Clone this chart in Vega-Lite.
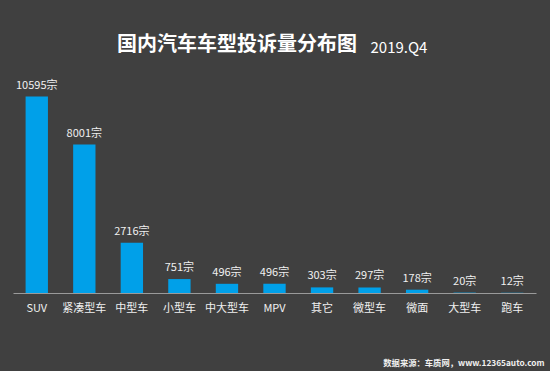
{
  "$schema": "https://vega.github.io/schema/vega-lite/v6.json",
  "width": 523,
  "height": 204,
  "autosize": {"type": "none"},
  "padding": {"left": 13, "top": 89, "right": 14, "bottom": 78},
  "background": "#404040",
  "config": {"view": {"stroke": null}},
  "title": {
    "text": "国内汽车车型投诉量分布图",
    "anchor": "start",
    "frame": "group",
    "dx": 104,
    "offset": -15,
    "font": "Noto Sans CJK SC",
    "fontSize": 20,
    "fontWeight": "bold",
    "color": "#ffffff"
  },
  "data": {
    "values": [
      {"type": "SUV", "count": 10595, "label": "10595宗"},
      {"type": "紧凑型车", "count": 8001, "label": "8001宗"},
      {"type": "中型车", "count": 2716, "label": "2716宗"},
      {"type": "小型车", "count": 751, "label": "751宗"},
      {"type": "中大型车", "count": 496, "label": "496宗"},
      {"type": "MPV", "count": 496, "label": "496宗"},
      {"type": "其它", "count": 303, "label": "303宗"},
      {"type": "微型车", "count": 297, "label": "297宗"},
      {"type": "微面", "count": 178, "label": "178宗"},
      {"type": "大型车", "count": 20, "label": "20宗"},
      {"type": "跑车", "count": 12, "label": "12宗"}
    ]
  },
  "encoding": {
    "x": {
      "field": "type",
      "type": "nominal",
      "sort": null,
      "scale": {"paddingInner": 0.53, "paddingOuter": 0.265},
      "axis": {
        "title": "数据来源：车质网，www.12365auto.com",
        "titleAnchor": "end",
        "titleAlign": "right",
        "titleBaseline": "middle",
        "titleX": 531,
        "titleY": 70,
        "titleFont": "Noto Sans CJK SC",
        "titleFontSize": 8.3,
        "titleFontWeight": "bold",
        "titleColor": "#f0f0f0",
        "labelAngle": 0,
        "labelFont": "Noto Sans CJK SC",
        "labelFontSize": 11,
        "labelColor": "#f0f0f0",
        "labelPadding": 9,
        "ticks": false,
        "domainColor": "#9a9a9a",
        "domainWidth": 1
      }
    },
    "y": {
      "field": "count",
      "type": "quantitative",
      "scale": {"domain": [0, 11000]},
      "axis": {
        "title": "2019.Q4",
        "titleAngle": 0,
        "titleAlign": "left",
        "titleBaseline": "alphabetic",
        "titleX": 357,
        "titleY": -37,
        "titleFont": "Noto Sans CJK SC",
        "titleFontSize": 15,
        "titleFontWeight": "normal",
        "titleColor": "#ffffff",
        "labels": false,
        "ticks": false,
        "domain": false,
        "grid": false
      }
    }
  },
  "layer": [
    {"mark": {"type": "bar", "color": "#00a0e9"}},
    {
      "mark": {
        "type": "text",
        "baseline": "bottom",
        "dy": -6,
        "color": "#f0f0f0",
        "font": "Noto Sans CJK SC",
        "fontSize": 11
      },
      "encoding": {"text": {"field": "label"}}
    }
  ]
}
